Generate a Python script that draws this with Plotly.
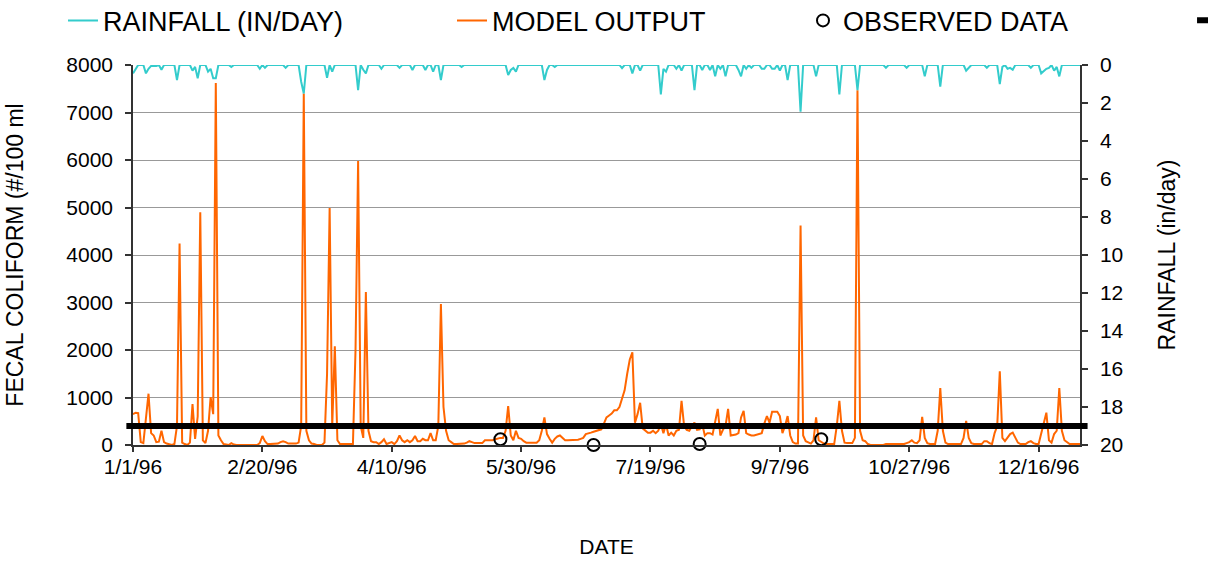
import plotly.graph_objects as go
import pandas as pd

# ---------------- data ----------------
START_DATE = "1996-01-01"

# daily modelled fecal coliform (#/100 ml), 1/1/96 .. 1/1/97
model_output = [
    650, 680, 670, 60, 40, 500, 1080, 250, 200, 60,
    70, 300, 60, 30, 10, 0, 20, 400, 4240, 50,
    20, 0, 50, 860, 130, 600, 4900, 100, 40, 300,
    1010, 650, 7620, 200, 100, 20, 10, 0, 40, 10,
    0, 0, 0, 0, 0, 0, 0, 0, 0, 40,
    190, 80, 20, 20, 20, 20, 30, 60, 80, 60,
    30, 30, 30, 30, 50, 400, 7400, 300, 100, 30,
    20, 0, 0, 0, 50, 1500, 4990, 400, 2080, 100,
    20, 20, 20, 20, 20, 20, 2000, 5980, 400, 150,
    3220, 300, 80, 60, 60, 20, 60, 120, 20, 40,
    60, 20, 80, 200, 100, 60, 100, 60, 100, 190,
    80, 80, 130, 100, 100, 250, 100, 100, 400, 2970,
    800, 300, 100, 60, 20, 20, 20, 20, 30, 50,
    80, 60, 40, 40, 40, 40, 100, 100, 100, 100,
    120, 140, 150, 150, 300, 820, 200, 100, 300, 150,
    130, 80, 50, 50, 50, 50, 50, 100, 300, 580,
    230, 130, 50, 130, 180, 200, 150, 100, 100, 100,
    100, 110, 110, 130, 150, 230, 240, 260, 280, 300,
    320, 330, 450, 580, 620, 660, 730, 730, 800, 1000,
    1150, 1500, 1800, 1950, 470, 650, 890, 350, 300, 260,
    260, 300, 250, 300, 440, 250, 440, 200, 260, 200,
    300, 320, 930, 400, 320, 300, 400, 470, 320, 330,
    440, 200, 250, 250, 220, 500, 760, 200, 320, 400,
    760, 200, 210, 220, 250, 580, 720, 250, 220, 200,
    200, 220, 230, 250, 450, 610, 470, 700, 700, 700,
    610, 250, 400, 610, 200, 60, 30, 30, 4620, 200,
    80, 50, 30, 100, 580, 100, 60, 30, 20, 20,
    20, 20, 400, 930, 300, 50, 40, 40, 40, 150,
    7470, 300, 100, 80, 20, 0, 0, 0, 0, 0,
    0, 20, 20, 20, 20, 20, 20, 20, 20, 40,
    60, 100, 50, 40, 100, 590, 150, 40, 20, 20,
    20, 300, 1200, 300, 50, 20, 20, 20, 20, 20,
    20, 150, 510, 150, 40, 20, 20, 20, 20, 80,
    80, 40, 20, 250, 400, 1550, 150, 80, 150, 230,
    260, 150, 50, 20, 20, 20, 60, 80, 40, 20,
    20, 250, 500, 680, 100, 50, 230, 300, 1200, 300,
    100, 50, 20, 20, 20, 20, 20,
]

# rainfall (in/day): day-of-year index of rainy days and their depths (all other days 0)
rain_days = [0, 1, 5, 6, 7, 8, 9, 11, 17, 23, 24, 25, 29, 30, 31, 32, 38, 49, 51, 59,
             65, 66, 75, 77, 87, 89, 90, 96, 103, 108, 113, 116, 119, 127, 145, 146, 147, 148,
             159, 160, 163, 189, 193, 196, 204, 205, 206, 210, 212, 217, 220, 223, 225, 227,
             229, 234, 235, 237, 239, 243, 244, 247, 248, 250, 253, 258, 264, 273, 280, 291,
             299, 306, 312, 322, 323, 330, 335, 336, 338, 339, 340, 347, 351, 352, 353, 354,
             356, 357, 358]
rain_values = [0.44, 0.2, 0.44, 0.2, 0.05, 0.05, 0.05, 0.25, 0.79, 0.3, 0.1, 0.7, 0.35, 0.2, 0.7, 0.7, 0.1, 0.2, 0.15, 0.15,
               0.88, 1.5, 0.67, 0.35, 1.32, 0.25, 0.44, 0.2, 0.15, 0.26, 0.26, 0.35, 0.79, 0.1, 0.53, 0.26, 0.15, 0.35,
               0.79, 0.26, 0.1, 0.17, 0.44, 0.3, 1.55, 0.2, 0.35, 0.2, 0.3, 1.32, 0.26, 0.26, 0.6, 0.2,
               0.6, 0.26, 0.6, 0.2, 0.15, 0.2, 0.2, 0.2, 0.2, 0.3, 0.79, 2.46, 0.6, 1.55, 1.32, 0.15,
               0.15, 0.6, 1.14, 0.3, 0.15, 0.15, 1.0, 0.1, 0.2, 0.15, 0.25, 0.15, 0.44, 0.3, 0.2, 0.15,
               0.3, 0.1, 0.6]

obs_dates = ["1996-05-22", "1996-06-27", "1996-08-07", "1996-09-23"]
obs_values = [120, 0, 20, 120]

STANDARD = 400

tick_dates = ["1996-01-01", "1996-02-20", "1996-04-10", "1996-05-30",
              "1996-07-19", "1996-09-07", "1996-10-27", "1996-12-16"]
tick_labels = ["1/1/96", "2/20/96", "4/10/96", "5/30/96",
               "7/19/96", "9/7/96", "10/27/96", "12/16/96"]
left_ticks = [0, 1000, 2000, 3000, 4000, 5000, 6000, 7000, 8000]
right_ticks = [0, 2, 4, 6, 8, 10, 12, 14, 16, 18, 20]

# ---------------- build ----------------
dates = pd.date_range(START_DATE, periods=len(model_output), freq="D")
rain = [0.0] * len(dates)
for d, v in zip(rain_days, rain_values):
    rain[d] = v

FONT = "Liberation Sans, Arial, sans-serif"
AX = "#333333"

fig = go.Figure()
fig.add_trace(go.Scatter(
    x=dates, y=rain, name="RAINFALL (IN/DAY)", mode="lines",
    line=dict(color="#33CCCC", width=2), yaxis="y2", legend="legend"))
fig.add_trace(go.Scatter(
    x=dates, y=model_output, name="MODEL OUTPUT", mode="lines",
    line=dict(color="#FF6600", width=2), legend="legend2"))
fig.add_trace(go.Scatter(
    x=pd.to_datetime(obs_dates), y=obs_values, name="OBSERVED DATA", mode="markers",
    marker=dict(symbol="circle-open", size=12, color="black", line=dict(width=2)),
    cliponaxis=False, legend="legend3"))

fig.add_shape(type="line", xref="paper", yref="y", x0=-0.007, x1=1.008,
              y0=STANDARD, y1=STANDARD, line=dict(color="black", width=6), layer="above")
# clipped 4th legend glyph (standard line) at the right edge
fig.add_shape(type="line", xref="paper", yref="paper", x0=1.1236, x1=1.16,
              y0=1.118, y1=1.118, line=dict(color="black", width=6))

leg_common = dict(orientation="h", xref="container", yref="container",
                  xanchor="left", yanchor="middle", y=0.963,
                  font=dict(family=FONT, size=27, color="black"),
                  bgcolor="rgba(0,0,0,0)", borderwidth=0)

fig.update_layout(
    width=1208, height=563,
    margin=dict(l=133, r=128, t=65, b=118, autoexpand=False),
    paper_bgcolor="white", plot_bgcolor="white",
    font=dict(family=FONT, size=21, color="black"),
    showlegend=True,
    legend=dict(leg_common, x=63 / 1208),
    legend2=dict(leg_common, x=452 / 1208),
    legend3=dict(leg_common, x=803 / 1208),
    xaxis=dict(type="date", range=["1996-01-01", "1997-01-01"],
               tickvals=tick_dates, ticktext=tick_labels,
               ticks="outside", ticklen=5, tickcolor=AX, tickwidth=1.5,
               showline=True, linecolor=AX, linewidth=1.5,
               showgrid=False, zeroline=False,
               tickfont=dict(size=21), ticklabelstandoff=-3,
               title=dict(text="DATE", font=dict(size=21), standoff=62)),
    yaxis=dict(range=[0, 8000], tickvals=left_ticks,
               ticks="outside", ticklen=6, tickcolor=AX, tickwidth=1.5,
               showline=True, linecolor=AX, linewidth=1.5,
               showgrid=True, gridcolor="#999999", gridwidth=1.2, zeroline=False,
               tickfont=dict(size=21), ticklabelstandoff=8,
               title=dict(text="FECAL COLIFORM (#/100 ml", font=dict(size=23), standoff=36)),
    yaxis2=dict(range=[20, 0], tickvals=right_ticks, overlaying="y", side="right",
                ticks="outside", ticklen=6, tickcolor=AX, tickwidth=1.5,
                showline=True, linecolor=AX, linewidth=1.5,
                showgrid=False, zeroline=False,
                tickfont=dict(size=21), ticklabelstandoff=8,
                title=dict(text="RAINFALL (in/day)", font=dict(size=23), standoff=36)),
)

fig.write_html("out.html")
